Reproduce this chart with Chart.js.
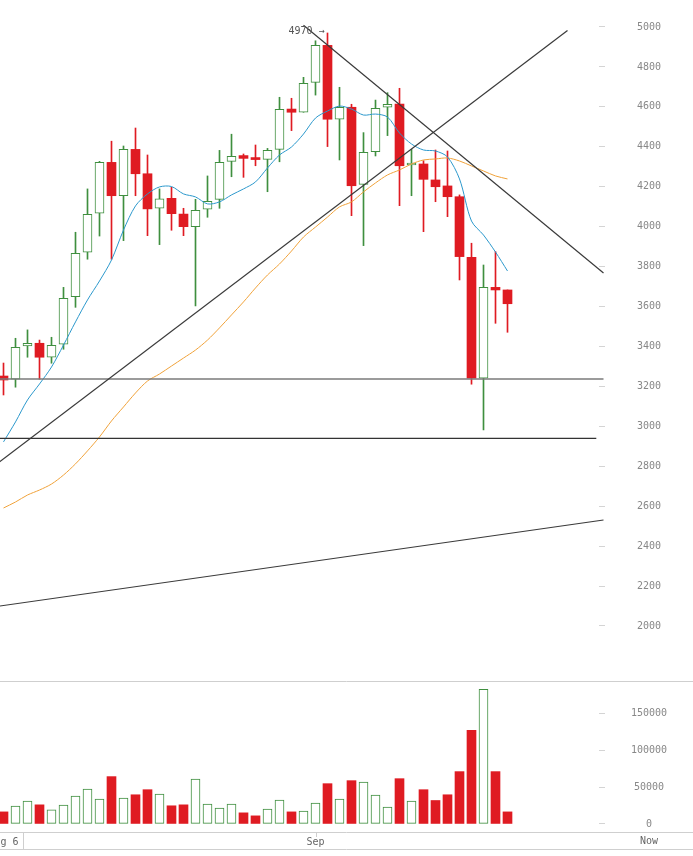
<!DOCTYPE html>
<html>
<head>
<meta charset="utf-8">
<script src="https://cdn.jsdelivr.net/npm/chart.js@4.4.1/dist/chart.umd.min.js"></script>
<style>
  html, body { margin: 0; padding: 0; background: #fff; }
  #wrap { position: relative; width: 693px; height: 856px; overflow: hidden; }
  #price { position: absolute; left: 0; top: 0; }
  #volume { position: absolute; left: 0; top: 681px; }
</style>
</head>
<body>
<div id="wrap">
  <canvas id="price" width="693" height="681"></canvas>
  <canvas id="volume" width="693" height="175"></canvas>
</div>
<script>
// daily candles, Aug 6 - Sep 17
const days = [
  'Aug 6', 'Aug 7', 'Aug 8', 'Aug 9', 'Aug 10', 'Aug 11', 'Aug 12', 'Aug 13', 'Aug 14', 'Aug 15',
  'Aug 16', 'Aug 17', 'Aug 18', 'Aug 19', 'Aug 20', 'Aug 21', 'Aug 22', 'Aug 23', 'Aug 24', 'Aug 25',
  'Aug 26', 'Aug 27', 'Aug 28', 'Aug 29', 'Aug 30', 'Aug 31', 'Sep 1', 'Sep 2', 'Sep 3', 'Sep 4',
  'Sep 5', 'Sep 6', 'Sep 7', 'Sep 8', 'Sep 9', 'Sep 10', 'Sep 11', 'Sep 12', 'Sep 13', 'Sep 14',
  'Sep 15', 'Sep 16', 'Sep 17',
];
const opens = [
  3252, 3236, 3403, 3416, 3346, 3411, 3649, 3872, 4067, 4322,
  4155, 4387, 4265, 4092, 4142, 4063, 4000, 4087, 4137, 4327,
  4356, 4344, 4337, 4387, 4589, 4573, 4723, 4908, 4538, 4598,
  4212, 4376, 4598, 4614, 4309, 4314, 4234, 4204, 4150, 3847,
  3241, 3696, 3683,
];
const highs = [
  3317, 3441, 3483, 3432, 3446, 3696, 3972, 4189, 4327, 4428,
  4404, 4494, 4359, 4189, 4197, 4092, 4137, 4254, 4382, 4463,
  4364, 4409, 4392, 4648, 4643, 4748, 4931, 4970, 4698, 4613,
  4471, 4634, 4671, 4693, 4387, 4330, 4384, 4379, 4159, 3917,
  3808, 3875, 3683,
];
const lows = [
  3157, 3196, 3346, 3236, 3316, 3386, 3596, 3837, 3953, 3837,
  3930, 4155, 3955, 3910, 3982, 3955, 3603, 4047, 4092, 4250,
  4247, 4305, 4175, 4325, 4481, 4573, 4659, 4401, 4334, 4055,
  3905, 4354, 4456, 4105, 4155, 3975, 4125, 4050, 3733, 3211,
  2982, 3516, 3471,
];
const closes = [
  3232, 3396, 3416, 3346, 3406, 3641, 3867, 4062, 4322, 4155,
  4387, 4265, 4089, 4140, 4065, 4000, 4082, 4127, 4322, 4352,
  4342, 4336, 4382, 4588, 4573, 4718, 4908, 4538, 4598, 4205,
  4372, 4593, 4613, 4305, 4319, 4237, 4200, 4150, 3850, 3241,
  3696, 3683, 3614,
];
const volumes = [
  16400, 24200, 31100, 26000, 19200, 25600, 37900, 47500, 33800, 64400,
  35200, 39700, 46600, 40600, 24700, 26000, 61200, 27000, 21500, 27000,
  15100, 11000, 20100, 32400, 16400, 17400, 28300, 54800, 33800, 58900,
  57100, 39300, 22900, 61600, 31100, 46600, 31900, 39700, 71200, 127400,
  183100, 71200, 16400,
];
// moving averages as drawn on the chart
const maFast = [
  2922, 3022, 3132, 3212, 3297, 3407, 3523, 3633, 3728, 3833,
  3983, 4104, 4164, 4199, 4201, 4164, 4149, 4114, 4124, 4159,
  4189, 4224, 4294, 4359, 4399, 4464, 4544, 4579, 4604, 4589,
  4559, 4564, 4549, 4469, 4414, 4384, 4379, 4349, 4239, 4028,
  3958, 3873, 3778,
];
const maSlow = [
  2591, 2621, 2656, 2681, 2711, 2756, 2812, 2877, 2947, 3027,
  3097, 3167, 3227, 3262, 3302, 3342, 3382, 3432, 3493, 3558,
  3623, 3693, 3758, 3813, 3878, 3948, 3998, 4048, 4099, 4124,
  4174, 4219, 4259, 4284, 4314, 4334, 4339, 4344, 4329, 4304,
  4279, 4254, 4239,
];
// hand-drawn trend lines, [day index, price]
const downTrend = [[25, 5009], [50, 3768]];
const upTrend = [[-1, 2792], [47, 4982]];
const supportHigh = [[-1, 3237], [50, 3237]];
const supportLow = [[-1, 2940], [49.4, 2940]];
const longTrend = [[-1, 2094], [50, 2531]];

const priceTicks = [2000, 2200, 2400, 2600, 2800, 3000, 3200, 3400, 3600, 3800, 4000, 4200, 4400, 4600, 4800, 5000];
const volumeTicks = [0, 50000, 100000, 150000];
const xTickIndex = [0, 26];
const xTickText = ['Aug 6', 'Sep'];

const GREEN = '#3f8f3f';
const RED = '#df1b22';
const MONO = 'DejaVu Sans Mono';

Chart.defaults.animation = false;
Chart.defaults.font.family = MONO;
Chart.defaults.font.size = 10;
Chart.defaults.color = '#888';

const isUp = (i) => closes[i] >= opens[i];
const toPoints = (arr) => arr.map((p) => ({ x: p[0], y: p[1] }));

const xRange = { min: -0.29167, max: 49.625 };

function trendDataset(points, color, width) {
  return {
    type: 'line',
    data: toPoints(points),
    borderColor: color,
    borderWidth: width,
    pointRadius: 0,
    tension: 0,
    clip: 5,
    order: 0,
  };
}

function maDataset(values, color) {
  return {
    type: 'line',
    data: values.map((v, i) => ({ x: i, y: v })),
    borderColor: color,
    borderWidth: 1,
    pointRadius: 0,
    tension: 0.3,
    order: 0,
  };
}

const peakLabel = {
  id: 'peakLabel',
  afterDatasetsDraw(chart) {
    const ctx = chart.ctx;
    const top = Math.max(...highs);
    const i = highs.indexOf(top);
    const x = chart.scales.x.getPixelForValue(i);
    const y = chart.scales.y.getPixelForValue(top);
    ctx.save();
    ctx.font = '10px "' + MONO + '"';
    ctx.fillStyle = '#555';
    ctx.textAlign = 'right';
    ctx.textBaseline = 'middle';
    ctx.fillText(top + ' \u2192', x - 3, y - 1.5);
    ctx.restore();
  },
};

new Chart(document.getElementById('price'), {
  type: 'bar',
  data: {
    datasets: [
      trendDataset(downTrend, '#3a3a3a', 1.2),
      trendDataset(upTrend, '#3a3a3a', 1.2),
      trendDataset(supportHigh, '#7a7a7a', 1.6),
      trendDataset(supportLow, '#333333', 1.3),
      trendDataset(longTrend, '#3a3a3a', 1.2),
      maDataset(maFast, '#2b98cc'),
      maDataset(maSlow, '#f0a23a'),
      {
        data: days.map((d, i) => ({ x: i, y: [opens[i], closes[i]] })),
        backgroundColor: days.map((d, i) => (isUp(i) ? '#ffffff' : RED)),
        borderColor: days.map((d, i) => (isUp(i) ? GREEN : RED)),
        borderWidth: days.map((d, i) => (isUp(i) ? 1 : 0)),
        borderSkipped: false,
        barThickness: 9,
        minBarLength: 2,
        grouped: false,
        order: 1,
      },
      {
        data: days.map((d, i) => ({ x: i, y: [lows[i], highs[i]] })),
        backgroundColor: days.map((d, i) => (isUp(i) ? GREEN : RED)),
        borderWidth: 0,
        barThickness: 1,
        grouped: false,
        order: 2,
      },
    ],
  },
  options: {
    responsive: false,
    layout: { padding: 0 },
    plugins: {
      legend: { display: false },
      tooltip: { enabled: false },
    },
    scales: {
      x: {
        type: 'linear',
        min: xRange.min,
        max: xRange.max,
        offset: false,
        display: false,
      },
      y: {
        position: 'right',
        min: 1724.5,
        max: 5135.2,
        grid: { drawOnChartArea: false, drawTicks: true, tickLength: 6, color: '#d4d4d4' },
        border: { display: false },
        afterBuildTicks: (s) => {
          s.ticks = priceTicks.map((v) => ({ value: v }));
        },
        afterFit: (s) => {
          s.width = 94;
          s.paddingTop = 0;
          s.paddingBottom = 0;
        },
        ticks: {
          crossAlign: 'center',
          padding: 32,
          color: '#888',
          callback: (v) => String(v),
        },
      },
    },
  },
  plugins: [peakLabel],
});

const axisFrame = {
  id: 'axisFrame',
  afterDraw(chart) {
    const ctx = chart.ctx;
    const area = chart.chartArea;
    const w = chart.width;
    const bottom = area.bottom;
    ctx.save();
    ctx.strokeStyle = '#cfcfcf';
    ctx.lineWidth = 1;
    ctx.beginPath();
    ctx.moveTo(0, 0.5);
    ctx.lineTo(w, 0.5);
    ctx.moveTo(0, bottom + 0.5);
    ctx.lineTo(w, bottom + 0.5);
    ctx.moveTo(0, bottom + 17.5);
    ctx.lineTo(w, bottom + 17.5);
    ctx.moveTo(23.5, bottom);
    ctx.lineTo(23.5, bottom + 17);
    const sx = Math.round(chart.scales.x.getPixelForValue(xTickIndex[1])) + 0.5;
    ctx.moveTo(sx, bottom);
    ctx.lineTo(sx, bottom + 5);
    ctx.stroke();
    ctx.font = '10px "' + MONO + '"';
    ctx.fillStyle = '#666';
    ctx.textAlign = 'center';
    ctx.textBaseline = 'middle';
    ctx.fillText('Now', area.right + 50, bottom + 9);
    ctx.restore();
  },
};

new Chart(document.getElementById('volume'), {
  type: 'bar',
  data: {
    datasets: [
      {
        data: days.map((d, i) => ({ x: i, y: volumes[i] })),
        backgroundColor: days.map((d, i) => (isUp(i) ? '#ffffff' : RED)),
        borderColor: days.map((d, i) => (isUp(i) ? GREEN : RED)),
        borderWidth: days.map((d, i) => (isUp(i) ? 1 : 0)),
        borderSkipped: false,
        barThickness: 9,
        grouped: false,
      },
    ],
  },
  options: {
    responsive: false,
    layout: { padding: { top: 1, left: 0, right: 0, bottom: 0 } },
    plugins: {
      legend: { display: false },
      tooltip: { enabled: false },
    },
    scales: {
      x: {
        type: 'linear',
        min: xRange.min,
        max: xRange.max,
        offset: false,
        position: 'bottom',
        grid: { drawOnChartArea: false, drawTicks: false },
        border: { display: false },
        afterBuildTicks: (s) => {
          s.ticks = xTickIndex.map((v) => ({ value: v }));
        },
        afterFit: (s) => {
          s.height = 24;
          s.paddingLeft = 0;
          s.paddingRight = 0;
        },
        ticks: {
          autoSkip: false,
          maxRotation: 0,
          padding: 4,
          color: '#666',
          callback: (v) => xTickText[xTickIndex.indexOf(v)],
        },
      },
      y: {
        position: 'right',
        min: -10959,
        max: 193151,
        grid: { drawOnChartArea: false, drawTicks: true, tickLength: 6, color: '#d4d4d4' },
        border: { display: false },
        afterBuildTicks: (s) => {
          s.ticks = volumeTicks.map((v) => ({ value: v }));
        },
        afterFit: (s) => {
          s.width = 94;
          s.paddingTop = 0;
          s.paddingBottom = 0;
        },
        ticks: {
          crossAlign: 'center',
          padding: 26,
          color: '#888',
          callback: (v) => String(v),
        },
      },
    },
  },
  plugins: [axisFrame],
});
</script>
</body>
</html>
